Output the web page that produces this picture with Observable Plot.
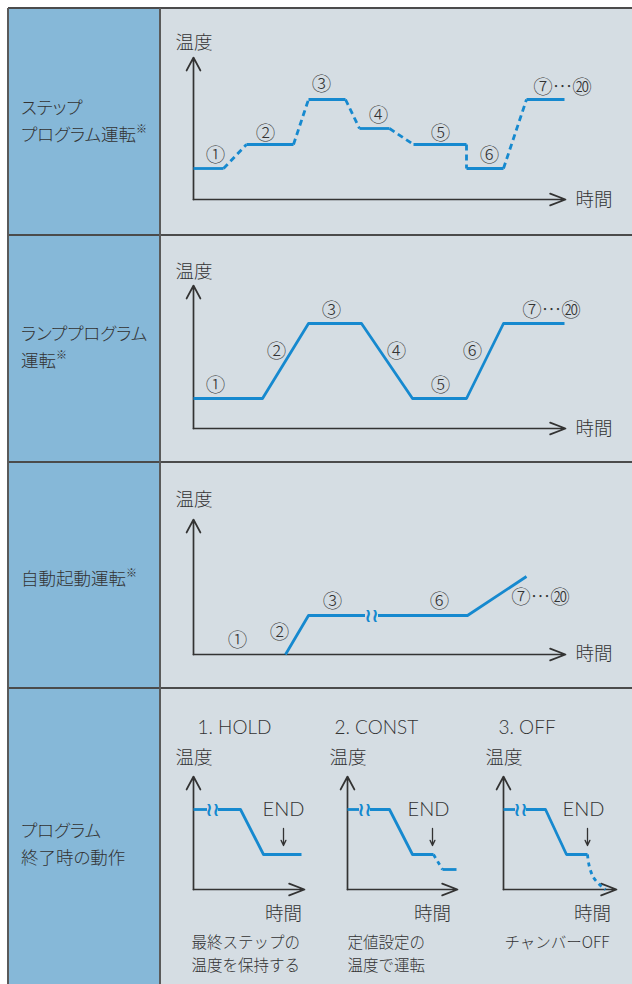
<!DOCTYPE html>
<html><head><meta charset="utf-8">
<script src="https://cdn.jsdelivr.net/npm/d3@7"></script>
<script src="https://cdn.jsdelivr.net/npm/@observablehq/plot@0.6"></script>
<style>
body{margin:0;background:#fff;width:632px;height:984px;overflow:hidden;position:relative;font-family:"Noto Sans CJK JP",sans-serif;}
.abs{position:absolute;}
.label{position:absolute;left:21px;font-size:17.5px;line-height:27px;color:#333;white-space:nowrap;font-weight:300;font-feature-settings:"palt";}
.label sup{font-size:11px;vertical-align:0;position:relative;top:-8px;}
.hline{position:absolute;left:8px;width:624px;height:2px;background:#4b4b4b;}
.vline{position:absolute;top:8px;width:2px;height:976px;background:#5a5a5a;}
svg{overflow:visible;}
</style></head>
<body>
<div class="abs" style="left:8px;top:8px;width:152px;height:976px;background:#86b8d8"></div>
<div class="abs" style="left:160px;top:8px;width:472px;height:976px;background:#d5dde3"></div>
<div id="charts"></div>
<div class="label" style="top:93px">ステップ<br>プログラム運転<sup>※</sup></div>
<div class="label" style="top:319px">ランププログラム<br>運転<sup>※</sup></div>
<div class="label" style="top:564px">自動起動運転<sup>※</sup></div>
<div class="label" style="top:816px">プログラム<br>終了時の動作</div>
<div class="hline" style="top:7px"></div>
<div class="hline" style="top:234px"></div>
<div class="hline" style="top:461px"></div>
<div class="hline" style="top:687px"></div>
<div class="vline" style="left:7px"></div>
<div class="vline" style="left:159px"></div>
<script>
// ---------------- data ----------------
const axisY = "温度";
const axisX = "時間";
const stepNames = ["①","②","③","④","⑤","⑥","⑦…⑳"];

// Step program (solid = hold steps, dashed = transitions)
const stepTime = [0,30,53,100,115,152,166,196,220,273,273,310,333,371];
const stepTemp = [31,31,55,55,100,100,71,71,55,55,31,31,100,100];
const stepLabelTime = [22,72,128,185,247,296,369];
const stepLabelTemp = [44,66,115,84,66,44,112];

// Ramp program
const rampTime = [0,69,115,168,219,273,310,371];
const rampTemp = [30,30,105,105,30,30,105,105];
const rampLabelTime = [22,83,138,203,247,279,358];
const rampLabelTemp = [43,77,118,77,43,77,118];

// Auto start
const autoTime = [92,115,274,333];
const autoTemp = [0,39,39,78];
const autoBreakTime = 178;
const autoNames = ["①","②","③","⑥","⑦…⑳"];
const autoLabelTime = [44,86,139,246,347];
const autoLabelTemp = [14,22,53,53,57];

// End of program modes
const endModes = ["1. HOLD","2. CONST","3. OFF"];
const endCaptions = ["最終ステップの\n温度を保持する","定値設定の\n温度で運転","チャンバーOFF"];
const endSolidTime = [[0,47,70,108],[0,42,65,86],[0,42,63,84]];
const endSolidTemp = [[80,80,35,35],[80,80,35,35],[80,80,35,35]];
const endAfterTime = [[],[86,95],[84,85,87,90,94,98,102]];
const endAfterTemp = [[],[35,20],[35,27,19,12,7,3,0]];
const endFinalTime = [[],[95,109],[]];
const endFinalTemp = [[],[20,20],[]];
const endMarkTime = [90,85,84];
const endBreakTime = [19,17,17];
const endXTip = [111,110,113];

// ---------------- layout / style ----------------
const BLUE = "#1689cf", INK = "#333";
const JP = "Noto Sans CJK JP";
const L = {
  step:{top:8,height:227,ox:33,oy:191,yTip:142,xTip:372,yLab:156,xLab:-1},
  ramp:{top:235,height:227,ox:33,oy:193,yTip:143,xTip:372,yLab:156,xLab:-1},
  auto:{top:462,height:226,ox:33,oy:192,yTip:135,xTip:372,yLab:154,xLab:0},
  end:{top:688,height:296,lefts:[160,314,470],width:162,ox:33,oy:201,yTip:113}
};
const titleStart = [4,-13,-5];
const endLabelX = [90,81,80];
const timeLabelX = [90,85,89];
const captionStart = [-2,0,1];

function axes(xTip, yTip) {
  return [
    Plot.arrow([{x1:0,y1:0,x2:0,y2:yTip}], {x1:"x1",y1:"y1",x2:"x2",y2:"y2",stroke:INK,strokeWidth:1.7,headAngle:56,headLength:13}),
    Plot.arrow([{x1:0,y1:0,x2:xTip,y2:0}], {x1:"x1",y1:"y1",x2:"x2",y2:"y2",stroke:INK,strokeWidth:1.7,headAngle:42,headLength:14.5})
  ];
}
function plotFrame(width, height, ox, oy, marks) {
  return Plot.plot({
    width, height, margin:0,
    x:{type:"linear",domain:[0,100],range:[ox,ox+100],axis:null},
    y:{type:"linear",domain:[0,100],range:[oy,oy-100],axis:null},
    style:{background:"transparent",overflow:"visible"},
    marks
  });
}
function segRows(ts, vs, pick) {
  const rows = [];
  for (let i = 0; i < ts.length - 1; i++) if (pick(i)) rows.push({t:ts[i],v:vs[i],seg:i},{t:ts[i+1],v:vs[i+1],seg:i});
  return rows;
}
function splitAt(ts, vs, bt, gap) {
  const rows = [];
  let seg = 0;
  for (let i = 0; i < ts.length; i++) {
    if (i > 0 && ts[i-1] < bt && ts[i] > bt) {
      const f = (bt - ts[i-1]) / (ts[i] - ts[i-1]);
      const v = vs[i-1] + f * (vs[i] - vs[i-1]);
      rows.push({t:bt-gap,v,seg});
      seg++;
      rows.push({t:bt+gap,v,seg});
    }
    rows.push({t:ts[i],v:vs[i],seg});
  }
  return rows;
}
function pts(ts, vs) { return ts.map((t,i)=>({t,v:vs[i]})); }
const jpText = {fontFamily:JP,fill:INK,fontWeight:300};
function axisLabels(p) {
  return [
    Plot.text([axisY], {x:-18,y:p.yLab,text:d=>d,textAnchor:"start",fontSize:18.5,...jpText}),
    Plot.text([axisX], {x:p.xTip+10,y:p.xLab,text:d=>d,textAnchor:"start",fontSize:18.5,...jpText})
  ];
}
function numLabels(names, ts, vs) {
  return Plot.text(names, {x:(d,i)=>ts[i],y:(d,i)=>vs[i],text:d=>d,fontSize:19.5,...jpText});
}
function squiggle(t, v) {
  return Plot.text(["≀≀"], {x:t,y:v,text:d=>d,fontSize:19,fontWeight:"bold",fontFamily:"DejaVu Sans",fill:BLUE});
}
function place(svg, left, top) {
  const d = document.createElement("div");
  d.style.cssText = `position:absolute;left:${left}px;top:${top}px;`;
  d.appendChild(svg);
  document.getElementById("charts").appendChild(d);
}
const lineStyle = {x:"t",y:"v",z:"seg",stroke:BLUE,strokeWidth:2.8,strokeLinejoin:"round",strokeLinecap:"butt"};

// Step program
{
  const p = L.step;
  place(plotFrame(472, p.height, p.ox, p.oy, [
    ...axes(p.xTip, p.yTip),
    Plot.line(segRows(stepTime, stepTemp, i => i % 2 === 0), lineStyle),
    Plot.line(segRows(stepTime, stepTemp, i => i % 2 === 1), {...lineStyle, strokeDasharray:"6,4"}),
    numLabels(stepNames, stepLabelTime, stepLabelTemp),
    ...axisLabels(p)
  ]), 160, p.top);
}
// Ramp program
{
  const p = L.ramp;
  place(plotFrame(472, p.height, p.ox, p.oy, [
    ...axes(p.xTip, p.yTip),
    Plot.line(pts(rampTime, rampTemp), {...lineStyle, z:null}),
    numLabels(stepNames, rampLabelTime, rampLabelTemp),
    ...axisLabels(p)
  ]), 160, p.top);
}
// Auto start
{
  const p = L.auto;
  place(plotFrame(472, p.height, p.ox, p.oy, [
    ...axes(p.xTip, p.yTip),
    Plot.line(splitAt(autoTime, autoTemp, autoBreakTime, 6.5), lineStyle),
    squiggle(autoBreakTime, autoTemp[1]),
    numLabels(autoNames, autoLabelTime, autoLabelTemp),
    ...axisLabels(p)
  ]), 160, p.top);
}
// End modes
{
  const p = L.end;
  endModes.forEach((mode, k) => {
    const marks = [
      ...axes(endXTip[k], p.yTip),
      Plot.line(splitAt(endSolidTime[k], endSolidTemp[k], endBreakTime[k], 5.5), lineStyle),
      squiggle(endBreakTime[k], endSolidTemp[k][0]),
      Plot.text([mode], {x:titleStart[k],y:162,text:d=>d,textAnchor:"start",fontSize:19,fontFamily:"Lato",fontWeight:300,fill:INK}),
      Plot.text([axisY], {x:-18,y:131,text:d=>d,textAnchor:"start",fontSize:18.5,...jpText}),
      Plot.text([axisX], {x:timeLabelX[k],y:-25,text:d=>d,fontSize:18.5,...jpText}),
      Plot.text(["END"], {x:endLabelX[k],y:80,text:d=>d,fontSize:20,fontFamily:"Lato",fontWeight:300,fill:INK}),
      Plot.arrow([{t:endMarkTime[k]}], {x1:"t",x2:"t",y1:61,y2:44,stroke:INK,strokeWidth:1.3,headAngle:50,headLength:7}),
      Plot.text([endCaptions[k]], {x:captionStart[k],y:-43,text:d=>d,lineAnchor:"top",lineHeight:1.45,textAnchor:"start",fontSize:15.5,...jpText})
    ];
    if (endAfterTime[k].length) marks.push(Plot.line(pts(endAfterTime[k], endAfterTemp[k]), {...lineStyle, z:null, curve:"natural", strokeDasharray:"4,4"}));
    if (endFinalTime[k].length) marks.push(Plot.line(pts(endFinalTime[k], endFinalTemp[k]), {...lineStyle, z:null}));
    place(plotFrame(p.width, p.height, p.ox, p.oy, marks), p.lefts[k], p.top);
  });
}
</script>
</body></html>
